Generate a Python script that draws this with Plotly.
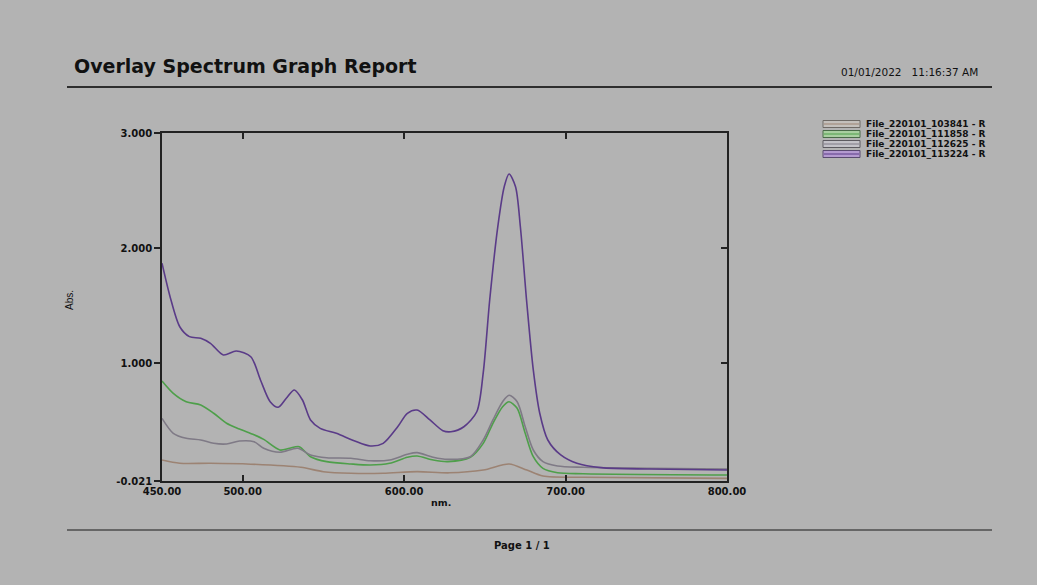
import plotly.graph_objects as go

# ---- data ----
names = ["File_220101_103841 - R", "File_220101_111858 - R",
         "File_220101_112625 - R", "File_220101_113224 - R"]

wl_103841 = [450, 461, 480, 505, 536, 550, 567, 587, 608, 628, 649, 665, 676, 686, 711, 800]
abs_103841 = [0.161, 0.133, 0.133, 0.125, 0.098, 0.060, 0.046, 0.046, 0.060, 0.050, 0.074, 0.127, 0.074, 0.022, 0.011, 0.002]

wl_111858 = [450, 457, 465, 474, 482, 490, 498, 507, 513, 523, 529, 535, 542, 552, 567, 579, 591,
             602, 608, 618, 627, 641, 649, 655, 661, 665, 670, 675, 680, 686, 695, 711, 800]
abs_111858 = [0.847, 0.740, 0.667, 0.639, 0.567, 0.480, 0.430, 0.380, 0.340, 0.248, 0.263, 0.277,
              0.190, 0.147, 0.127, 0.118, 0.133, 0.185, 0.196, 0.161, 0.147, 0.185, 0.306, 0.480,
              0.624, 0.667, 0.610, 0.393, 0.190, 0.089, 0.051, 0.042, 0.031]

wl_112625 = [450, 457, 465, 474, 482, 490, 498, 507, 513, 523, 534, 542, 552, 567, 579, 591, 602,
             608, 618, 627, 641, 649, 655, 661, 665, 670, 675, 680, 686, 695, 711, 752, 800]
abs_112625 = [0.523, 0.393, 0.350, 0.335, 0.306, 0.300, 0.326, 0.320, 0.263, 0.228, 0.263, 0.205,
              0.181, 0.176, 0.155, 0.161, 0.211, 0.225, 0.185, 0.167, 0.190, 0.335, 0.509, 0.667,
              0.723, 0.667, 0.450, 0.248, 0.147, 0.109, 0.098, 0.090, 0.083]

wl_113224 = [450, 455, 461, 467, 474, 480, 488, 496, 505, 511, 517, 522, 527, 532, 537, 542, 548,
             558, 569, 579, 587, 596, 602, 608, 616, 624, 629, 637, 645, 649, 653, 658, 662, 665,
             669, 672, 676, 680, 684, 689, 697, 707, 722, 752, 800]
abs_113224 = [1.869, 1.579, 1.318, 1.232, 1.218, 1.174, 1.073, 1.107, 1.058, 0.856, 0.667, 0.619,
              0.697, 0.769, 0.682, 0.509, 0.436, 0.393, 0.329, 0.283, 0.306, 0.450, 0.567, 0.595,
              0.509, 0.416, 0.407, 0.450, 0.580, 0.920, 1.550, 2.186, 2.534, 2.644, 2.534, 2.186,
              1.522, 0.943, 0.567, 0.335, 0.205, 0.133, 0.095, 0.083, 0.074]

series = [
    (wl_103841, abs_103841, "#9c8373", "#c4c0bc", "#6f6a66"),
    (wl_111858, abs_111858, "#4e9f4a", "#a9cfa0", "#4a6b48"),
    (wl_112625, abs_112625, "#7f7a86", "#c3c2c8", "#5c5a60"),
    (wl_113224, abs_113224, "#5a3b88", "#b49ad0", "#5a4a70"),
]

x_tickvals = [450, 500, 600, 700, 800]
x_ticktext = ["450.00", "500.00", "600.00", "700.00", "800.00"]
y_tickvals = [-0.021, 1.0, 2.0, 3.0]
y_ticktext = ["-0.021", "1.000", "2.000", "3.000"]

# ---- layout geometry ----
W, H = 1037, 585
L, R, T, B = 162, 727, 133, 481
BG = "#b3b3b3"


def px(xp):
    return (xp - L) / (R - L)


def py(yp):
    return (B - yp) / (B - T)


fig = go.Figure()
for (wl, ab, col, _, _), nm in zip(series, names):
    fig.add_trace(go.Scatter(x=wl, y=ab, mode="lines", name=nm,
                             line=dict(color=col, width=1.6, shape="spline", smoothing=0.8),
                             showlegend=False))

# invisible trace on right axis to host inside ticks
fig.add_trace(go.Scatter(x=[450], y=[0], yaxis="y2", mode="markers",
                         marker=dict(opacity=0), showlegend=False, hoverinfo="skip"))

tickfont = dict(family="DejaVu Sans", size=10, color="#111111", weight="bold")

fig.update_layout(
    width=W, height=H,
    margin=dict(l=L, r=W - R, t=T, b=H - B),
    paper_bgcolor=BG, plot_bgcolor=BG,
    xaxis=dict(range=[450, 800], tickvals=x_tickvals, ticktext=x_ticktext,
               ticks="inside", ticklen=6, tickwidth=1.5, tickcolor="#222",
               showline=True, linecolor="#222", linewidth=1.8, mirror="ticks",
               showgrid=False, zeroline=False, tickfont=tickfont),
    yaxis=dict(range=[-0.021, 3.0], tickvals=y_tickvals, ticktext=y_ticktext,
               ticks="outside", ticklen=6, tickwidth=1.5, tickcolor="#222",
               showline=True, linecolor="#222", linewidth=1.8, mirror=True,
               showgrid=False, zeroline=False, tickfont=tickfont),
    yaxis2=dict(range=[-0.021, 3.0], overlaying="y", side="right", tickvals=y_tickvals,
                showticklabels=False, ticks="inside", ticklen=6, tickwidth=1.5,
                tickcolor="#222", showgrid=False, zeroline=False, showline=False),
)

shapes = [
    dict(type="line", xref="paper", yref="paper", x0=px(67), x1=px(992), y0=py(87), y1=py(87),
         line=dict(color="#2e2e2e", width=2)),
    dict(type="line", xref="paper", yref="paper", x0=px(67), x1=px(992), y0=py(530), y1=py(530),
         line=dict(color="#666666", width=2)),
]
annotations = [
    dict(text="<b>Overlay Spectrum Graph Report</b>", xref="paper", yref="paper",
         x=px(72), y=py(66), xanchor="left", yanchor="middle", showarrow=False,
         font=dict(family="DejaVu Sans", size=19, color="#111111")),
    dict(text="01/01/2022&nbsp;&nbsp;&nbsp;11:16:37 AM", xref="paper", yref="paper",
         x=px(980), y=py(72), xanchor="right", yanchor="middle", showarrow=False,
         font=dict(family="DejaVu Sans", size=10.5, color="#111111")),
    dict(text="<b>Page 1 / 1</b>", xref="paper", yref="paper",
         x=px(522), y=py(545), xanchor="center", yanchor="middle", showarrow=False,
         font=dict(family="DejaVu Sans", size=10, color="#111111")),
    dict(text="<b>nm.</b>", xref="paper", yref="paper",
         x=px(441), y=py(502), xanchor="center", yanchor="middle", showarrow=False,
         font=dict(family="DejaVu Sans", size=9.5, color="#111111")),
    dict(text="Abs.", xref="paper", yref="paper", textangle=-90,
         x=px(69), y=py(300), xanchor="center", yanchor="middle", showarrow=False,
         font=dict(family="Liberation Sans", size=10, color="#111111")),
]

for i, ((_, _, col, fill, border), nm) in enumerate(zip(series, names)):
    yc = 124 + 10 * i
    shapes.append(dict(type="rect", xref="paper", yref="paper",
                       x0=px(823), x1=px(860), y0=py(yc - 3.5), y1=py(yc + 3.5),
                       line=dict(color=border, width=1), fillcolor=fill))
    shapes.append(dict(type="line", xref="paper", yref="paper",
                       x0=px(824), x1=px(859), y0=py(yc), y1=py(yc),
                       line=dict(color=col, width=1)))
    annotations.append(dict(text="<b>" + nm + "</b>", xref="paper", yref="paper",
                            x=px(864), y=py(yc), xanchor="left", yanchor="middle",
                            showarrow=False,
                            font=dict(family="DejaVu Sans", size=9, color="#111111")))

fig.update_layout(shapes=shapes, annotations=annotations)
fig.write_html("out.html", config={"displayModeBar": False},
               post_script="document.body.style.margin='0';document.body.style.background='%s';" % BG)
